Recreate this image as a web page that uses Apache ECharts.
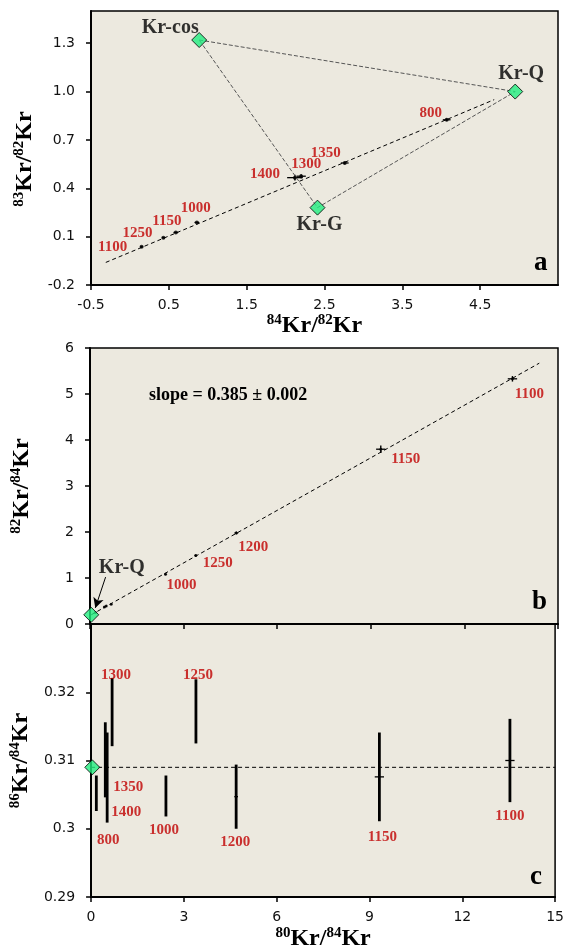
<!DOCTYPE html>
<html>
<head>
<meta charset="utf-8">
<script src="https://cdn.jsdelivr.net/npm/echarts@6/dist/echarts.min.js"></script>
<style>
  html, body { margin: 0; padding: 0; background: #fff; }
  #chart { width: 567px; height: 952px; }
</style>
</head>
<body>
<div id="chart"></div>
<script>
// panel a : 83Kr/82Kr vs 84Kr/82Kr
var stepsA = ['1100', '1250', '1150', '1000', '1400', '1300', '1350', '800'];
var kr84_82 = [0.15, 0.43, 0.59, 0.86, 2.12, 2.20, 2.76, 4.07];
var kr83_82 = [0.037, 0.093, 0.126, 0.188, 0.466, 0.475, 0.557, 0.825];
var kr84_82Err = [0.02, 0.02, 0.03, 0.03, 0.10, 0.06, 0.05, 0.05];
var kr83_82Err = [0.004, 0.004, 0.005, 0.005, 0.018, 0.012, 0.008, 0.008];
var endNames = ['Kr-cos', 'Kr-Q', 'Kr-G'];
var end84_82 = [0.89, 4.95, 2.41];
var end83_82 = [1.32, 1.00, 0.28];
var fitA = [[-0.31, -0.06], [4.68, 0.95]];

// panels b and c : vs 80Kr/84Kr
var stepsBC = ['800', '1350', '1400', '1300', '1000', '1250', '1200', '1150', '1100'];
var kr80_84 = [0.17, 0.46, 0.52, 0.68, 2.42, 3.39, 4.69, 9.32, 13.54];
var kr80_84Err = [0.02, 0.02, 0.02, 0.02, 0.03, 0.04, 0.06, 0.15, 0.15];
var kr82_84 = [0.25, 0.37, 0.39, 0.43, 1.08, 1.49, 1.98, 3.80, 5.33];
var kr82_84Err = [0.01, 0.01, 0.01, 0.01, 0.02, 0.02, 0.03, 0.08, 0.06];
var kr86_84 = [0.3052, 0.3101, 0.3075, 0.3171, 0.3048, 0.3172, 0.3047, 0.3076, 0.3100];
var kr86_84Err = [0.0026, 0.0055, 0.0066, 0.0050, 0.0030, 0.0047, 0.0047, 0.0065, 0.0061];
var krQ80_84 = 0.04, krQ82_84 = 0.20, krQ86_84 = 0.3090;
var fitB = [[0.04, 0.20], [14.4, 5.67]];
var slopeText = 'slope = 0.385 \u00b1 0.002';

// label offsets (px), kept apart from the data
var offA = [[-29, 0], [-26, -5], [-9, -11], [-1, -14], [-30, -4], [5, -12], [-19, -10], [-16, -7]];
var offEnd = [[-29, -12], [6, -18], [2, 17]];
var offB = {'1000': [16, 11], '1250': [22, 8], '1200': [17, 14], '1150': [25, 10], '1100': [17, 15]};
var offC = [[12, 47], [23, 27], [19, 35], [4, -37], [-2, 34], [2, -36], [-1, 45], [3, 60], [0, 56]];

var RED = '#c00000';
var GREEN = '#22ee80';
var BG = '#ece9df';
var serif = 'Liberation Serif';

function redLabel(off) {
  return {show: true, position: 'inside', offset: off, color: RED,
    fontFamily: serif, fontWeight: 'bold', fontSize: 15};
}

function errBars(lw) {
  return function (params, api) {
    var x = api.value(0), y = api.value(1), xe = api.value(2), ye = api.value(3);
    var l = api.coord([x - xe, y]), r = api.coord([x + xe, y]);
    var t = api.coord([x, y + ye]), b = api.coord([x, y - ye]);
    var st = {stroke: '#000', lineWidth: lw};
    var kids = [{type: 'line', shape: {x1: t[0], y1: t[1], x2: b[0], y2: b[1]}, style: st}];
    if (xe > 0) kids.push({type: 'line', shape: {x1: l[0], y1: l[1], x2: r[0], y2: r[1]}, style: {stroke: '#000', lineWidth: 1.3}});
    return {type: 'group', children: kids};
  };
}

function isoName(a, b) {
  return '{s|' + a + '}{m|Kr/}{s|' + b + '}{m|Kr}';
}
function nameStyle(pad) {
  return {
    padding: pad,
    rich: {
      m: {fontFamily: serif, fontWeight: 'bold', fontSize: 24, color: '#000', lineHeight: 26},
      s: {fontFamily: serif, fontWeight: 'bold', fontSize: 15, color: '#000', verticalAlign: 'top', lineHeight: 26}
    }
  };
}
var tickLabel = {fontFamily: 'DejaVu Sans', fontSize: 14, color: '#111'};
function axisBase(extra) {
  var o = {
    type: 'value',
    axisLine: {show: true, onZero: false, lineStyle: {color: '#000', width: 2}},
    axisTick: {show: true, length: 5, lineStyle: {color: '#000', width: 1.5}},
    splitLine: {show: false},
    axisLabel: Object.assign({showMaxLabel: false}, tickLabel),
    nameLocation: 'middle',
    nameTextStyle: nameStyle([0, 0, 0, 0])
  };
  return Object.assign(o, extra);
}

var chart = echarts.init(document.getElementById('chart'));

var option = {
  animation: false,
  backgroundColor: '#fff',
  grid: [
    {left: 91, top: 11, width: 467, height: 274, show: true, backgroundColor: BG, borderColor: '#000', borderWidth: 1.5},
    {left: 90, top: 348, width: 468, height: 276, show: true, backgroundColor: BG, borderColor: '#000', borderWidth: 1.5},
    {left: 90, top: 624, width: 468, height: 274, show: true, backgroundColor: BG, borderColor: '#000', borderWidth: 1.5}
  ],
  xAxis: [
    axisBase({gridIndex: 0, min: -0.5, max: 5.5, interval: 1, name: isoName('84', '82'), nameGap: 26,
      nameTextStyle: nameStyle([0, 20, 0, 0]),
      axisLabel: Object.assign({showMaxLabel: false, margin: 13}, tickLabel)}),
    axisBase({gridIndex: 1, min: 0, max: 15, interval: 3, axisLabel: {show: false}}),
    axisBase({gridIndex: 2, min: 0, max: 15, interval: 3, name: isoName('80', '84'), nameGap: 29,
      axisLabel: Object.assign({margin: 13}, tickLabel)})
  ],
  yAxis: [
    axisBase({gridIndex: 0, min: -0.2, max: 1.5, interval: 0.3, name: isoName('83', '82'), nameGap: 52,
      nameTextStyle: nameStyle([0, 22, 0, 0]),
      axisLabel: Object.assign({showMaxLabel: false, margin: 16, formatter: function (v) { return v.toFixed(1); }}, tickLabel)}),
    axisBase({gridIndex: 1, min: 0, max: 6, interval: 1, name: isoName('82', '84'), nameGap: 55,
      axisLabel: Object.assign({margin: 16}, tickLabel)}),
    axisBase({gridIndex: 2, min: 0.29, max: 0.33, interval: 0.01, name: isoName('86', '84'), nameGap: 57,
      axisLabel: Object.assign({showMaxLabel: false, margin: 16}, tickLabel)})
  ],
  graphic: [
    {type: 'text', left: 534, top: 250, style: {text: 'a', font: 'bold 27px "Liberation Serif"', fill: '#000'}},
    {type: 'text', left: 532, top: 589, style: {text: 'b', font: 'bold 27px "Liberation Serif"', fill: '#000'}},
    {type: 'text', left: 530, top: 864, style: {text: 'c', font: 'bold 27px "Liberation Serif"', fill: '#000'}},
    {type: 'text', left: 149, top: 386, style: {text: slopeText, font: 'bold 18px "Liberation Serif"', fill: '#000'}}
  ],
  series: []
};

// ---- panel a ----
var mixLine = {type: 'dashed', color: '#555', width: 1};
option.series.push(
  {type: 'line', xAxisIndex: 0, yAxisIndex: 0, showSymbol: false, silent: true,
    lineStyle: mixLine, data: [[end84_82[0], end83_82[0]], [end84_82[1], end83_82[1]], [end84_82[2], end83_82[2]], [end84_82[0], end83_82[0]]]},
  {type: 'line', xAxisIndex: 0, yAxisIndex: 0, showSymbol: false, silent: true,
    lineStyle: {type: [4, 3], color: '#000', width: 1}, data: fitA},
  {type: 'custom', xAxisIndex: 0, yAxisIndex: 0, renderItem: errBars(1.4),
    data: kr84_82.map(function (x, i) { return [x, kr83_82[i], kr84_82Err[i], kr83_82Err[i]]; })},
  {type: 'scatter', xAxisIndex: 0, yAxisIndex: 0, symbolSize: 4, itemStyle: {color: '#000'},
    data: kr84_82.map(function (x, i) {
      return {value: [x, kr83_82[i]], label: Object.assign(redLabel(offA[i]), {formatter: stepsA[i]})};
    })},
  {type: 'scatter', xAxisIndex: 0, yAxisIndex: 0, symbol: 'diamond', symbolSize: 15,
    itemStyle: {color: GREEN, borderColor: '#000', borderWidth: 1}, z: 5,
    data: end84_82.map(function (x, i) {
      return {value: [x, end83_82[i]], label: {show: true, position: 'inside', offset: offEnd[i], formatter: endNames[i],
        color: '#000', fontFamily: serif, fontWeight: 'bold', fontSize: 20}};
    })}
);

// ---- panel b ----
option.series.push(
  {type: 'line', xAxisIndex: 1, yAxisIndex: 1, showSymbol: false, silent: true,
    lineStyle: {type: [4, 3], color: '#000', width: 1}, data: fitB,
    markLine: {silent: true, symbol: ['none', 'arrow'], symbolSize: [8, 10], label: {show: false},
      lineStyle: {type: 'solid', color: '#000', width: 1},
      data: [[{coord: [0.5, 1.02]}, {coord: [0.17, 0.35]}]]}},
  {type: 'custom', xAxisIndex: 1, yAxisIndex: 1, renderItem: errBars(1.4),
    data: kr80_84.map(function (x, i) { return [x, kr82_84[i], kr80_84Err[i], kr82_84Err[i]]; })},
  {type: 'scatter', xAxisIndex: 1, yAxisIndex: 1, symbolSize: 3, itemStyle: {color: '#000'},
    data: kr80_84.map(function (x, i) {
      var o = offB[stepsBC[i]];
      return {value: [x, kr82_84[i]], label: o ? Object.assign(redLabel(o), {formatter: stepsBC[i]}) : {show: false}};
    })},
  {type: 'scatter', xAxisIndex: 1, yAxisIndex: 1, symbol: 'diamond', symbolSize: 15, z: 5,
    itemStyle: {color: GREEN, borderColor: '#000', borderWidth: 1},
    data: [[krQ80_84, krQ82_84]]},
  {type: 'scatter', xAxisIndex: 1, yAxisIndex: 1, symbolSize: 0, silent: true,
    data: [{value: [1.02, 1.23], label: {show: true, position: 'inside', formatter: 'Kr-Q',
      color: '#000', fontFamily: serif, fontWeight: 'bold', fontSize: 20}}]}
);

// ---- panel c ----
option.series.push(
  {type: 'line', xAxisIndex: 2, yAxisIndex: 2, showSymbol: false, silent: true,
    lineStyle: {type: [4, 3], color: '#000', width: 1}, data: [[0, krQ86_84], [15, krQ86_84]]},
  {type: 'custom', xAxisIndex: 2, yAxisIndex: 2, renderItem: errBars(2.8),
    data: kr80_84.map(function (x, i) { return [x, kr86_84[i], i >= 6 ? kr80_84Err[i] : 0, kr86_84Err[i]]; })},
  {type: 'scatter', xAxisIndex: 2, yAxisIndex: 2, symbolSize: 0,
    data: kr80_84.map(function (x, i) {
      return {value: [x, kr86_84[i]], label: Object.assign(redLabel(offC[i]), {formatter: stepsBC[i]})};
    })},
  {type: 'scatter', xAxisIndex: 2, yAxisIndex: 2, symbol: 'diamond', symbolSize: 15, z: 5,
    itemStyle: {color: GREEN, borderColor: '#000', borderWidth: 1},
    data: [[krQ80_84, krQ86_84]]}
);

chart.setOption(option);
</script>
</body>
</html>
